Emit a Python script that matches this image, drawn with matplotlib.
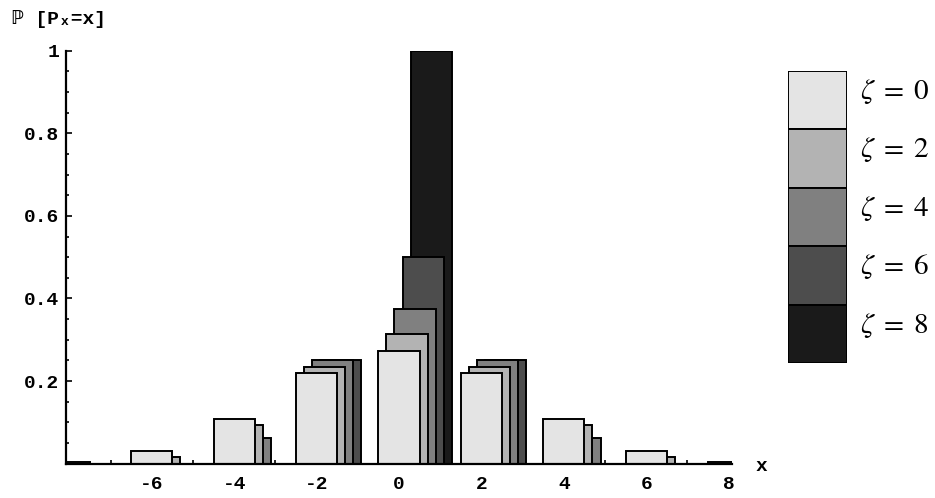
import matplotlib
matplotlib.use("Agg")
import matplotlib.pyplot as plt
import numpy as np

plt.rcParams['mathtext.fontset'] = 'stix'

# data
xs = [-8, -6, -4, -2, 0, 2, 4, 6, 8]
p_z0 = [0.004, 0.031, 0.109, 0.219, 0.273, 0.219, 0.109, 0.031, 0.004]
p_z2 = [0.0, 0.016, 0.094, 0.234, 0.313, 0.234, 0.094, 0.016, 0.0]
p_z4 = [0.0, 0.0, 0.063, 0.25, 0.375, 0.25, 0.063, 0.0, 0.0]
p_z6 = [0.0, 0.0, 0.0, 0.25, 0.5, 0.25, 0.0, 0.0, 0.0]
p_z8 = [0.0, 0.0, 0.0, 0.0, 1.0, 0.0, 0.0, 0.0, 0.0]
series = [p_z0, p_z2, p_z4, p_z6, p_z8]
zetas = ['0', '2', '4', '6', '8']
grays = ['#e4e4e4', '#b3b3b3', '#808080', '#4d4d4d', '#1a1a1a']

ytick_vals = [0.2, 0.4, 0.6, 0.8, 1.0]
ytick_labels = ['0.2', '0.4', '0.6', '0.8', '1']
xtick_vals = [-6, -4, -2, 0, 2, 4, 6, 8]
xtick_labels = ['-6', '-4', '-2', '0', '2', '4', '6', '8']

W, H = 935, 498
fig = plt.figure(figsize=(W/100, H/100), dpi=100)
ax = fig.add_axes([66/W, (H-463.7)/H, (732-66)/W, 413/H])

xs = np.array(xs)
shift = 0.195
# draw back to front: zeta=8 behind, zeta=0 in front
for i in range(len(series)-1, -1, -1):
    vals = np.array(series[i])
    m = vals > 0
    ax.bar(xs[m] + i*shift, vals[m], width=1.0, color=grays[i],
           edgecolor='black', linewidth=1.4, zorder=10-i)

ax.set_xlim(-8.08, 8.08)
ax.set_ylim(0, 1.0)
for s in ['top', 'right']:
    ax.spines[s].set_visible(False)
for s in ['left', 'bottom']:
    ax.spines[s].set_linewidth(1.6)
    ax.spines[s].set_zorder(20)

monofont = dict(family='Liberation Mono', size=14, weight='bold')
ax.set_yticks(ytick_vals)
ax.set_yticklabels(ytick_labels, fontdict=monofont)
ax.set_yticks(np.arange(0.05, 1.0, 0.05), minor=True)
ax.set_xticks(xtick_vals)
ax.set_xticklabels(xtick_labels, fontdict=monofont)
ax.set_xticks([-7, -5, -3, -1, 1, 3, 5, 7], minor=True)
ax.tick_params(axis='y', which='major', direction='in', length=4, width=1.2, pad=5)
ax.tick_params(axis='y', which='minor', direction='in', length=2.5, width=1.2)
ax.tick_params(axis='x', which='major', length=0, pad=9)
ax.tick_params(axis='x', which='minor', direction='in', length=3, width=1.2)

# axis labels
fig.text(12/W, 1-19/H, 'ℙ [Pₓ=x]', fontsize=14,
         family=['Liberation Mono', 'DejaVu Sans Mono', 'DejaVu Sans'], weight='bold',
         va='center', ha='left')
fig.text(756/W, 1-466/H, 'x', fontsize=14, family='Liberation Mono', weight='bold',
         va='center', ha='left')

# legend
lax = fig.add_axes([788/W, (H-363)/H, 59/W, 292/H])
n = len(zetas)
lax.bar([0]*n, [1]*n, bottom=list(range(n-1, -1, -1)), width=1.0, color=grays,
        edgecolor='black', linewidth=1.4)
lax.set_xlim(-0.5, 0.5)
lax.set_ylim(0, n)
lax.axis('off')
for i, z in enumerate(zetas):
    lax.text(0.72, n-i-0.5+0.15, r'$\zeta\;=\;%s$' % z, fontsize=21, va='center',
             ha='left', clip_on=False)

fig.savefig('out.png', dpi=100)
